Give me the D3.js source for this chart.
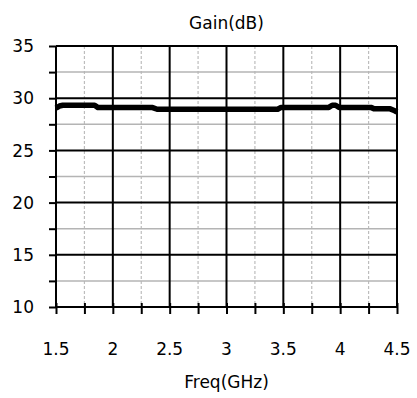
<!DOCTYPE html>
<html>
<head>
<meta charset="utf-8">
<script src="https://cdn.jsdelivr.net/npm/d3@7"></script>
<style>
  body { margin: 0; background: #fff; }
  svg text { font-family: "DejaVu Sans", sans-serif; fill: #000; }
</style>
</head>
<body>
<svg id="svg" width="417" height="398"></svg>
<script>
// Gain curve
var freq = [1.5, 1.53, 1.56, 1.84, 1.87, 2.35, 2.39, 3.45, 3.48, 3.90, 3.93, 3.96, 3.99, 4.27, 4.30, 4.44, 4.48, 4.5];
var gain = [29.05, 29.25, 29.32, 29.32, 29.1, 29.1, 28.94, 28.94, 29.12, 29.12, 29.33, 29.33, 29.12, 29.12, 28.98, 28.98, 28.8, 28.68];

var xTicks = [1.5, 2, 2.5, 3, 3.5, 4, 4.5];
var xMinor = [1.75, 2.25, 2.75, 3.25, 3.75, 4.25];
var yTicks = [10, 15, 20, 25, 30, 35];
var yMinor = [12.5, 17.5, 22.5, 27.5, 32.5];

var svg = d3.select("svg"),
    margin = { top: 46, right: 20, bottom: 91, left: 56 },
    width = +svg.attr("width") - margin.left - margin.right,
    height = +svg.attr("height") - margin.top - margin.bottom;

var g = svg.append("g").attr("transform", "translate(" + margin.left + "," + margin.top + ")");

var x = d3.scaleLinear().domain([1.5, 4.5]).range([0, width]);
var y = d3.scaleLinear().domain([10, 35]).range([height, 0]);

// minor grid
g.selectAll(".vminor").data(xMinor).enter().append("line")
    .attr("x1", d => x(d)).attr("x2", d => x(d))
    .attr("y1", 0).attr("y2", height)
    .style("stroke", "#bdbdbd").style("stroke-width", 1.2)
    .style("stroke-dasharray", "3,2");

g.selectAll(".hminor").data(yMinor).enter().append("line")
    .attr("x1", 0).attr("x2", width)
    .attr("y1", d => y(d)).attr("y2", d => y(d))
    .style("stroke", "#b4b4b4").style("stroke-width", 1.5);

// major grid
g.selectAll(".vmajor").data(xTicks).enter().append("line")
    .attr("x1", d => x(d)).attr("x2", d => x(d))
    .attr("y1", 0).attr("y2", height)
    .style("stroke", "#000").style("stroke-width", 2);

g.selectAll(".hmajor").data(yTicks).enter().append("line")
    .attr("x1", 0).attr("x2", width)
    .attr("y1", d => y(d)).attr("y2", d => y(d))
    .style("stroke", "#000").style("stroke-width", 2);

// axes ticks (major + minor)
var xAxis = d3.axisBottom(x).tickValues(xTicks.concat(xMinor).sort()).tickSize(7).tickFormat("");
var gx = g.append("g").attr("transform", "translate(0," + height + ")").call(xAxis);
gx.select(".domain").remove();
gx.selectAll(".tick line").attr("y1", -4).style("stroke-width", 2);

var yAxis = d3.axisLeft(y).tickValues(yTicks.concat(yMinor)).tickSize(7).tickFormat("");
var gy = g.append("g").call(yAxis);
gy.select(".domain").remove();
gy.selectAll(".tick line").attr("x1", 1).style("stroke-width", 2);

// tick labels
g.selectAll(".xlab").data(xTicks).enter().append("text")
    .attr("x", d => x(d)).attr("y", height + 48)
    .attr("text-anchor", "middle")
    .style("font-size", "17px")
    .text(d => d);

g.selectAll(".ylab").data(yTicks).enter().append("text")
    .attr("x", -22).attr("y", d => y(d))
    .attr("dy", "0.36em")
    .attr("text-anchor", "end")
    .style("font-size", "17px")
    .text(d => d);

// curve
var line = d3.line().x((d, i) => x(freq[i])).y((d, i) => y(gain[i]));
g.append("path")
    .datum(gain)
    .attr("d", line)
    .style("fill", "none")
    .style("stroke", "#000")
    .style("stroke-width", 5.5)
    .style("stroke-linejoin", "round");

// titles
svg.append("text")
    .attr("x", margin.left + width / 2).attr("y", 29)
    .attr("text-anchor", "middle")
    .style("font-size", "17px")
    .text("Gain(dB)");

svg.append("text")
    .attr("x", margin.left + width / 2).attr("y", 388)
    .attr("text-anchor", "middle")
    .style("font-size", "17px")
    .text("Freq(GHz)");
</script>
</body>
</html>
